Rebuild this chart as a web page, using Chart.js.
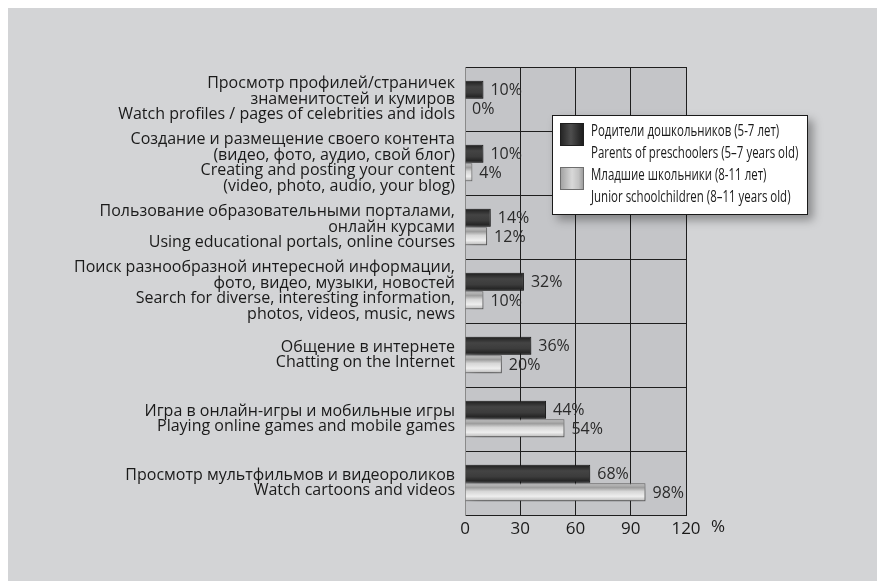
<!DOCTYPE html>
<html>
<head>
<meta charset="utf-8">
<script src="https://cdn.jsdelivr.net/npm/chart.js@4.4.1/dist/chart.umd.min.js"></script>
<style>
  html, body { margin: 0; padding: 0; background: #ffffff; }
  #panel { position: absolute; left: 8px; top: 8px; width: 869px; height: 573px; background: #d3d4d6; }
  #wrap { position: absolute; left: 0; top: 0; width: 877px; height: 581px; }
  #legend {
    position: absolute; left: 552px; top: 115px; width: 254px; height: 98px;
    background: #ffffff; border: 1px solid #1a1a1a;
    box-shadow: 5px 5px 9px rgba(0,0,0,0.35);
    font-family: "Open Sans", sans-serif; color: #1a1a1a;
  }
  .item { position: absolute; left: 7px; height: 44px; width: 240px; }
  .swatch { position: absolute; left: 0; top: 0; width: 22px; height: 21px; border: 1px solid #333; }
  .txt { position: absolute; left: 31px; top: -4px; width: max-content; font-size: 17px; line-height: 22px;
         white-space: nowrap; overflow: visible; transform: scaleX(0.675); transform-origin: 0 0; }
</style>
</head>
<body>
<div id="panel"></div>
<div id="wrap"><canvas id="chart" width="877" height="581"></canvas></div>
<div id="legend"></div>
<script>
// Survey categories (Russian / English), top to bottom
const categories = [
  ['Просмотр профилей/страничек', 'знаменитостей и кумиров', 'Watch profiles / pages of celebrities and idols'],
  ['Создание и размещение своего контента', '(видео, фото, аудио, свой блог)', 'Creating and posting your content', '(video, photo, audio, your blog)'],
  ['Пользование образовательными порталами,', 'онлайн курсами', 'Using educational portals, online courses'],
  ['Поиск разнообразной интересной информации,', 'фото, видео, музыки, новостей', 'Search for diverse, interesting information,', 'photos, videos, music, news'],
  ['Общение в интернете', 'Chatting on the Internet'],
  ['Игра в онлайн-игры и мобильные игры', 'Playing online games and mobile games'],
  ['Просмотр мультфильмов и видеороликов', 'Watch cartoons and videos']
];

// Share of respondents, %
const preschoolParents = [10, 10, 14, 32, 36, 44, 68];
const juniorSchool = [0, 4, 12, 10, 20, 54, 98];

const seriesNames = [
  ['Родители дошкольников (5-7 лет)', 'Parents of preschoolers (5–7 years old)'],
  ['Младшие школьники (8-11 лет)', 'Junior schoolchildren (8–11 years old)']
];

const xTicks = [0, 30, 60, 90, 120];
const unitLabel = '%';

const CAT_PCT = 0.58;
const BAR_PCT = 0.97;

const darkStops = [[0, '#1c1c1c'], [0.35, '#444444'], [0.65, '#3c3c3c'], [1, '#1a1a1a']];
const lightStops = [[0, '#c6c6c6'], [0.25, '#9d9d9d'], [0.45, '#d6d6d6'], [0.72, '#eeeeee'], [1, '#b2b2b2']];

// Vertical gradient aligned to each bar's own band
function bandGradient(stops, slot) {
  return (c) => {
    const chart = c.chart;
    const ys = chart.scales && chart.scales.y;
    if (!ys || c.type !== 'data' || !isFinite(ys.top)) return stops[1][1];
    const yc = ys.getPixelForValue(c.dataIndex);
    const band = (ys.bottom - ys.top) / categories.length;
    const half = band * CAT_PCT / 2;
    const y0 = slot === 0 ? yc - half : yc;
    const y1 = slot === 0 ? yc : yc + half;
    const g = chart.ctx.createLinearGradient(0, y0, 0, y1);
    stops.forEach(s => g.addColorStop(s[0], s[1]));
    return g;
  };
}

// Plot area fill behind the grid
const plotBackground = {
  id: 'plotBackground',
  beforeDraw(chart) {
    const { ctx, chartArea: a } = chart;
    ctx.save();
    ctx.fillStyle = '#c4c5c8';
    ctx.fillRect(a.left, a.top, a.right - a.left, a.bottom - a.top);
    ctx.restore();
  }
};

// Soft drop shadow under the bars, then value labels
const barDecor = {
  id: 'barDecor',
  beforeDatasetsDraw(chart) {
    const ctx = chart.ctx;
    ctx.save();
    ctx.shadowColor = 'rgba(0,0,0,0.5)';
    ctx.shadowBlur = 16;
    ctx.shadowOffsetX = 4;
    ctx.shadowOffsetY = 7;
  },
  afterDatasetsDraw(chart) {
    const ctx = chart.ctx;
    ctx.restore();
    ctx.save();
    ctx.font = '16px "Open Sans", sans-serif';
    ctx.fillStyle = '#2a2a2a';
    ctx.textBaseline = 'middle';
    ctx.textAlign = 'left';
    chart.data.datasets.forEach((ds, di) => {
      chart.getDatasetMeta(di).data.forEach((bar, i) => {
        const v = ds.data[i];
        ctx.fillText(v + '%', bar.x + 7, bar.y + 1);
      });
    });
    // unit after the last tick
    const xs = chart.scales.x;
    ctx.font = '17px "Open Sans", sans-serif';
    ctx.fillStyle = '#1a1a1a';
    ctx.textBaseline = 'top';
    ctx.fillText(unitLabel, xs.getPixelForValue(xTicks[xTicks.length - 1]) + 25, xs.top + 4);
    ctx.restore();
  }
};

const chart = new Chart(document.getElementById('chart'), {
  type: 'bar',
  data: {
    labels: categories,
    datasets: [
      {
        label: seriesNames[0].join(' / '),
        data: preschoolParents,
        backgroundColor: bandGradient(darkStops, 0),
        borderColor: '#1e1e1e',
        borderWidth: 1,
        categoryPercentage: CAT_PCT,
        barPercentage: BAR_PCT
      },
      {
        label: seriesNames[1].join(' / '),
        data: juniorSchool,
        backgroundColor: bandGradient(lightStops, 1),
        borderColor: '#6e6e6e',
        borderWidth: 1,
        categoryPercentage: CAT_PCT,
        barPercentage: BAR_PCT
      }
    ]
  },
  options: {
    indexAxis: 'y',
    responsive: false,
    animation: false,
    layout: { padding: { left: 0, top: 67, right: 191, bottom: 0 } },
    plugins: { legend: { display: false }, tooltip: { enabled: false } },
    scales: {
      x: {
        min: 0, max: 120,
        afterBuildTicks(scale) { scale.ticks = xTicks.map(v => ({ value: v })); },
        afterFit(scale) { scale.height = 66; },
        grid: {
          drawTicks: false,
          color: (c) => c.tick && c.tick.value === 0 ? '#8a8a8a' : '#1e1e1e',
          lineWidth: 1
        },
        border: { display: true, color: '#1e1e1e', width: 1 },
        ticks: {
          padding: 4,
          color: '#1a1a1a',
          font: { family: '"Open Sans", sans-serif', size: 17 },
          maxRotation: 0
        }
      },
      y: {
        afterFit(scale) { scale.width = 465; },
        grid: { drawTicks: false, color: '#1e1e1e', lineWidth: 1, offset: true },
        border: { display: true, color: '#8a8a8a', width: 1 },
        ticks: {
          autoSkip: false,
          padding: 10,
          color: '#1a1a1a',
          crossAlign: 'near',
          font: { family: '"Open Sans", sans-serif', size: 16, lineHeight: '15.8px' }
        }
      }
    }
  },
  plugins: [plotBackground, barDecor]
});

// Legend box built from the series names
const legend = document.getElementById('legend');
const swatchFills = [
  'linear-gradient(to right, #262626, #4e4e4e 45%, #2e2e2e 80%, #1e1e1e)',
  'linear-gradient(to right, #a4a4a4, #d8d8d8 50%, #c2c2c2 80%, #9e9e9e)'
];
seriesNames.forEach((lines, i) => {
  const item = document.createElement('div');
  item.className = 'item';
  item.style.top = (i === 0 ? 7 : 51) + 'px';
  const sw = document.createElement('div');
  sw.className = 'swatch';
  sw.style.background = swatchFills[i];
  sw.style.borderColor = i === 0 ? '#1e1e1e' : '#6e6e6e';
  const tx = document.createElement('div');
  tx.className = 'txt';
  tx.innerHTML = lines.join('<br>');
  item.appendChild(sw);
  item.appendChild(tx);
  legend.appendChild(item);
});
</script>
</body>
</html>
